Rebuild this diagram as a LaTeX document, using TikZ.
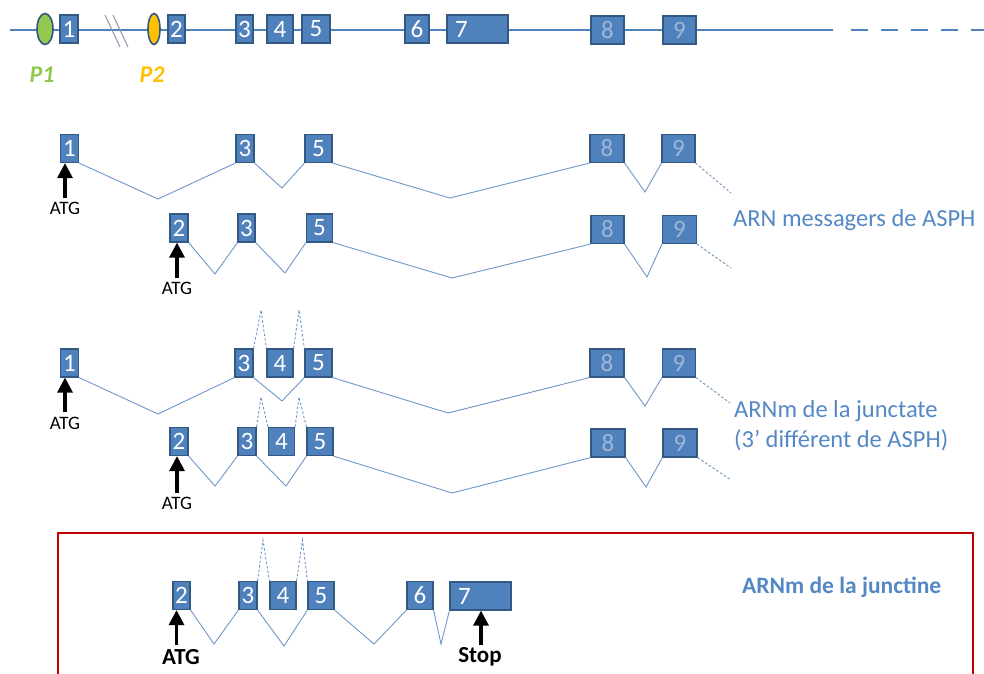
\documentclass[tikz,border=0pt]{standalone}
\usepackage{fontspec}
\setmainfont{Carlito}
\usetikzlibrary{arrows.meta,shapes.geometric}
\definecolor{exfill}{RGB}{79,129,189}
\definecolor{exdraw}{RGB}{52,88,132}
\definecolor{intr}{RGB}{110,150,200}
\definecolor{labc}{RGB}{84,136,196}
\definecolor{palec}{RGB}{160,182,214}
\definecolor{pgreen}{RGB}{146,200,80}
\definecolor{porange}{RGB}{255,192,0}
\definecolor{framec}{RGB}{192,0,0}
\definecolor{brkc}{RGB}{140,150,165}
\begin{document}
\begin{tikzpicture}[x=1pt,y=-1pt,
  exon/.style={draw=exdraw, fill=exfill, line width=1.2pt, inner sep=0pt,
    minimum height=28pt, text=white, font=\fontsize{25}{25}\selectfont},
  paleexon/.style={exon, text=palec},
  longexon/.style={exon, inner xsep=8pt, text width=45pt, align=left, minimum width=61pt},
  intron/.style={draw=intr, line width=0.9pt},
  skipline/.style={draw=intr, line width=0.9pt, dash pattern=on 2.5pt off 2pt},
  tailline/.style={draw=intr!80!gray, line width=0.9pt, dash pattern=on 2.5pt off 2pt},
  genome/.style={draw=exfill, line width=2.6pt},
  genomedash/.style={genome, dash pattern=on 17pt off 13pt},
  promoter/.style={ellipse, draw=exdraw, line width=1.6pt, inner sep=0pt, minimum height=31pt},
  plab/.style={font=\fontsize{24}{24}\selectfont\bfseries\itshape},
  brk/.style={draw=brkc, line width=1pt},
  startarrow/.style={line width=3.2pt, -{Triangle[width=15pt,length=15pt]}},
  atg/.style={inner sep=0pt, font=\fontsize{19}{19}\selectfont},
  atgb/.style={inner sep=0pt, font=\fontsize{23}{23}\selectfont\bfseries},
  rnalab/.style={anchor=west, inner sep=0pt, text=labc, font=\fontsize{24.5}{30}\selectfont},
]
\useasboundingbox (0,0) rectangle (984,673);

% ---------- genomic line ----------
\coordinate (gs) at (10,30);
\coordinate (ge) at (833,30);
\coordinate (ds) at (851,30);
\coordinate (de) at (990,30);
\draw[genome] (gs) -- (ge);
\draw[genomedash] (ds) -- (de);
\coordinate (b1a) at (105,15); \coordinate (b1b) at (120,47);
\coordinate (b2a) at (113,15); \coordinate (b2b) at (128,47);
\draw[brk] (b1a) -- (b1b);
\draw[brk] (b2a) -- (b2b);

\node[promoter, fill=pgreen, minimum width=16pt] (p1) at (45,29) {};
\node[promoter, fill=porange, minimum width=12pt] (p2) at (154,29) {};
\node[plab, text=pgreen] (p1lab) at (42,75) {P1};
\node[plab, text=porange] (p2lab) at (152,75) {P2};

\node[exon, minimum width=18pt] (g1) at (69,29) {1};
\node[exon, minimum width=17pt] (g2) at (176.5,29) {2};
\node[exon, minimum width=17pt] (g3) at (244.5,29) {3};
\node[exon, minimum width=26pt] (g4) at (280,29) {4};
\node[exon, minimum width=28pt] (g5) at (316,29) {5};
\node[exon, minimum width=24pt] (g6) at (417,29) {6};
\node[longexon] (g7) at (477.5,29) {7};
\node[paleexon, minimum width=33pt] (g8) at (607.5,30) {8};
\node[paleexon, minimum width=33pt] (g9) at (679.5,30) {9};

% ---------- row 1 ----------
\node[exon, minimum width=18pt] (a1) at (69.5,148.5) {1};
\node[exon, minimum width=18pt] (a3) at (245,148.5) {3};
\node[exon, minimum width=27pt] (a5) at (318.5,148.5) {5};
\node[paleexon, minimum width=34pt] (a8) at (607,148.5) {8};
\node[paleexon, minimum width=33pt] (a9) at (678.5,148.5) {9};
\draw[intron] (a1.south east) -- (158,199) -- (a3.south west);
\draw[intron] (a3.south east) -- (282,188) -- (a5.south west);
\draw[intron] (a5.south east) -- (450,198) -- (a8.south west);
\draw[intron] (a8.south east) -- (645,192) -- (a9.south west);
\coordinate (a9end) at (731,193);
\draw[tailline] (a9.south east) -- (a9end);
\node[atg] (atg1) at (65,208) {ATG};
\coordinate (at1) at (65,198);
\draw[startarrow] (at1) -- (at1 |- a1.south);

% ---------- row 2 ----------
\node[exon, minimum width=18pt] (b2) at (179,228) {2};
\node[exon, minimum width=17pt] (b3) at (246.5,228) {3};
\node[exon, minimum width=26pt] (b5) at (319.5,228) {5};
\node[paleexon, minimum width=33pt] (b8) at (607.5,229.5) {8};
\node[paleexon, minimum width=34pt] (b9) at (679.5,229.5) {9};
\draw[intron] (b2.south east) -- (215,274) -- (b3.south west);
\draw[intron] (b3.south east) -- (285,273) -- (b5.south west);
\draw[intron] (b5.south east) -- (452,278) -- (b8.south west);
\draw[intron] (b8.south east) -- (647,277) -- (b9.south west);
\coordinate (b9end) at (731,268);
\draw[tailline] (b9.south east) -- (b9end);
\node[atg] (atg2) at (177,288) {ATG};
\coordinate (at2) at (177,278);
\draw[startarrow] (at2) -- (at2 |- b2.south);
\node[rnalab] (lab1) at (733,220) {ARN messagers de ASPH};

% ---------- row 3 ----------
\node[exon, minimum width=18pt] (c1) at (69.5,363) {1};
\node[exon, minimum width=18pt] (c3) at (244,363) {3};
\node[exon, minimum width=26pt] (c4) at (280,363) {4};
\node[exon, minimum width=27pt] (c5) at (318.5,363) {5};
\node[paleexon, minimum width=34pt] (c8) at (607,363) {8};
\node[paleexon, minimum width=33pt] (c9) at (679,363) {9};
\draw[intron] (c1.south east) -- (158,414) -- (c3.south west);
\draw[intron] (c3.south east) -- (282,401) -- (c5.south west);
\draw[intron] (c5.south east) -- (448,413) -- (c8.south west);
\draw[intron] (c8.south east) -- (645,406) -- (c9.south west);
\draw[skipline] (c3.north east) -- (261,310) -- (c4.north west);
\draw[skipline] (c4.north east) -- (299,310) -- (c5.north west);
\coordinate (c9end) at (730,403);
\draw[tailline] (c9.south east) -- (c9end);
\node[atg] (atg3) at (65,423) {ATG};
\coordinate (at3) at (65,412);
\draw[startarrow] (at3) -- (at3 |- c1.south);

% ---------- row 4 ----------
\node[exon, minimum width=18pt] (d2) at (179,441.5) {2};
\node[exon, minimum width=18pt] (d3) at (247,441.5) {3};
\node[exon, minimum width=26pt] (d4) at (281.5,441.5) {4};
\node[exon, minimum width=26pt] (d5) at (320,441.5) {5};
\node[paleexon, minimum width=34pt] (d8) at (608,443) {8};
\node[paleexon, minimum width=34pt] (d9) at (680,443) {9};
\draw[intron] (d2.south east) -- (215,486) -- (d3.south west);
\draw[intron] (d3.south east) -- (286,486) -- (d5.south west);
\draw[intron] (d5.south east) -- (452,493) -- (d8.south west);
\draw[intron] (d8.south east) -- (646,487) -- (d9.south west);
\draw[skipline] (d3.north east) -- (261,397) -- (d4.north west);
\draw[skipline] (d4.north east) -- (299,397) -- (d5.north west);
\coordinate (d9end) at (731,480);
\draw[tailline] (d9.south east) -- (d9end);
\node[atg] (atg4) at (177,503) {ATG};
\coordinate (at4) at (177,493);
\draw[startarrow] (at4) -- (at4 |- d2.south);
\node[rnalab, align=left] (lab2) at (734,426) {ARNm de la junctate\\(3’ différent de ASPH)};

% ---------- row 5 (junctine) ----------
\coordinate (fbl) at (58,690);
\coordinate (ftl) at (58,533);
\coordinate (ftr) at (973,533);
\coordinate (fbr) at (973,690);
\draw[framec, line width=2.6pt] (fbl) -- (ftl) -- (ftr) -- (fbr);

\node[exon, minimum width=17pt] (e2) at (181.5,595.5) {2};
\node[exon, minimum width=18pt] (e3) at (248,595.5) {3};
\node[exon, minimum width=26pt] (e4) at (283,595.5) {4};
\node[exon, minimum width=26pt] (e5) at (321,595.5) {5};
\node[exon, minimum width=26pt] (e6) at (420,595.5) {6};
\node[longexon] (e7) at (480.5,596) {7};
\draw[intron] (e2.south east) -- (214,644) -- (e3.south west);
\draw[intron] (e3.south east) -- (284,646) -- (e5.south west);
\draw[intron] (e5.south east) -- (374,644) -- (e6.south west);
\draw[intron] (e6.south east) -- (441,644) -- (e7.south west);
\draw[skipline] (e3.north east) -- (263,540) -- (e4.north west);
\draw[skipline] (e4.north east) -- (302.5,540) -- (e5.north west);
\node[atgb] (atg5) at (181,657) {ATG};
\coordinate (at5) at (176.5,645);
\draw[startarrow] (at5) -- (at5 |- e2.south);
\node[atgb] (stop5) at (480,657) {Stop};
\coordinate (st5) at (481,645);
\draw[startarrow] (st5) -- (st5 |- e7.south);
\node[rnalab, font=\fontsize{23.5}{28}\selectfont\bfseries] (lab3) at (742,587) {ARNm de la junctine};
\end{tikzpicture}
\end{document}
